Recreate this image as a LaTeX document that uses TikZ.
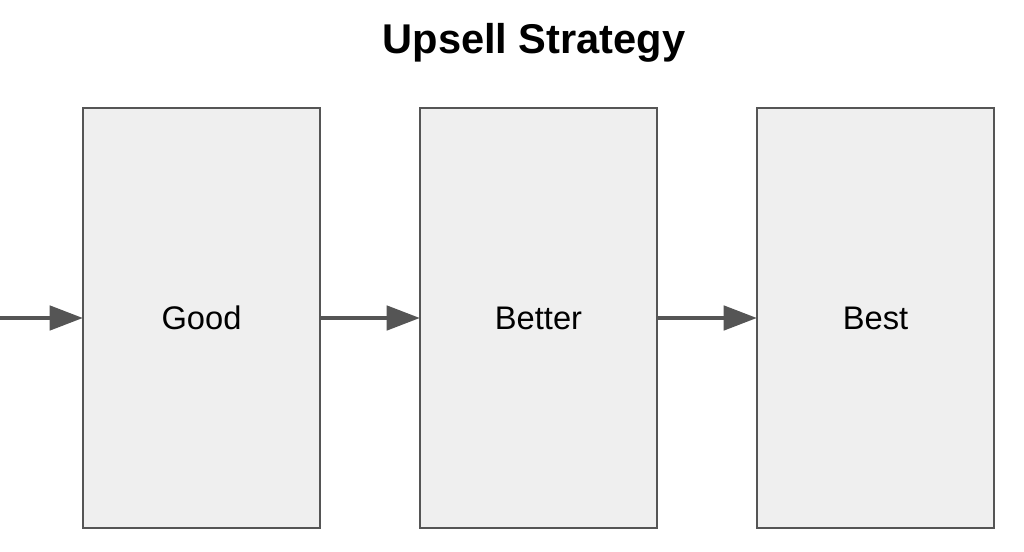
\documentclass[tikz,border=0pt]{standalone}
\usepackage{fontspec}
\setmainfont{Liberation Sans}
\usetikzlibrary{positioning,arrows.meta}
\definecolor{boxfill}{HTML}{EFEFEF}
\definecolor{boxline}{HTML}{555555}
\begin{document}
\begin{tikzpicture}[x=0.75pt,y=-0.75pt,
    tier/.style={draw=boxline,line width=1.1pt,fill=boxfill,outer sep=0pt,
      minimum width=177.75pt,minimum height=315pt,inner sep=0pt,
      font=\fontsize{24.5}{29}\selectfont},
    flow/.style={draw=boxline,line width=3.6pt,
      -{Triangle[length=25pt,width=18pt]}}]
    \useasboundingbox (0,0) rectangle (1024,552);
    \node[font=\fontsize{31.2}{36}\selectfont\bfseries] (title) at (534,43) {Upsell Strategy};
    \node[tier] (good) at (201.5,318) {Good};
    \node[tier,right=75pt of good] (better) {Better};
    \node[tier,right=75pt of better] (best) {Best};
    %\node[tier] (best) at (875,318) {Best};
    \coordinate (start) at (0,318);
    \draw[flow] (start) -- (good.west);
    \draw[flow] (good) -- (better);
    \draw[flow] (better) -- (best);
  \end{tikzpicture}
\end{document}
